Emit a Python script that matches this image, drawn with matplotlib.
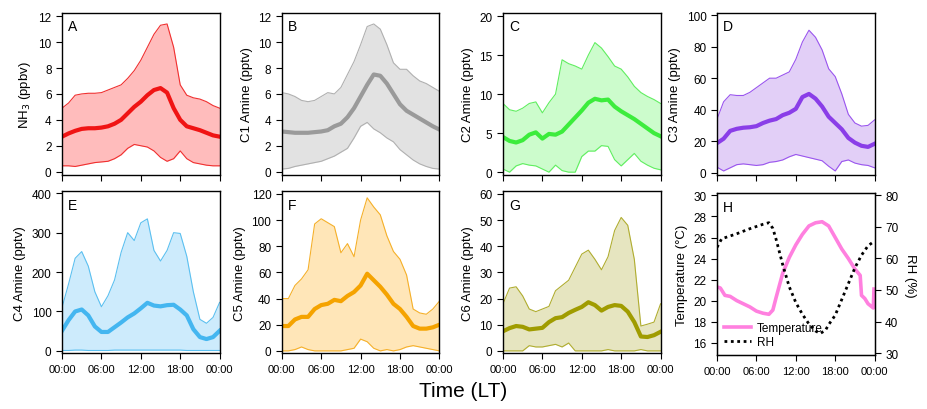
"""
Diurnal cycles of NH3, C1-C6 amines and meteorology (median + range)
"""

import numpy as np
import matplotlib.pyplot as plt

plt.rcParams['font.family'] = ['Liberation Sans', 'DejaVu Sans']

hours = np.arange(25)
xtick_labels = ['00:00', '06:00', '12:00', '18:00', '00:00']

### NH3 (ppbv)
nh3_med = [2.7,2.95,3.15,3.3,3.35,3.35,3.4,3.5,3.7,4.0,4.5,5.0,5.4,5.9,6.3,6.45,6.1,4.9,4.0,3.5,3.35,3.2,3.0,2.8,2.7]
nh3_hi = [4.9,5.3,5.9,6.0,6.05,6.05,6.1,6.3,6.5,6.7,7.2,7.8,8.6,9.6,10.6,11.3,11.4,9.6,6.7,5.9,5.7,5.6,5.4,5.1,4.9]
nh3_lo = [0.45,0.45,0.4,0.5,0.6,0.7,0.75,0.8,1.0,1.3,1.8,2.1,2.0,1.9,1.6,1.1,0.8,1.0,1.6,1.0,0.7,0.6,0.5,0.45,0.45]

### C1 amine (pptv)
c1_med = [3.1,3.05,3.0,3.0,3.0,3.05,3.1,3.2,3.5,3.7,4.2,4.9,5.8,6.7,7.5,7.4,6.8,6.0,5.2,4.7,4.4,4.1,3.8,3.5,3.25]
c1_hi = [6.1,6.0,5.8,5.5,5.4,5.5,5.8,6.1,6.0,6.5,7.5,8.5,9.8,11.2,11.4,11.0,9.8,8.4,7.9,7.9,7.4,7.0,6.8,6.5,6.2]
c1_lo = [0.2,0.25,0.4,0.5,0.6,0.7,0.8,1.0,1.2,1.5,1.8,2.6,3.5,3.8,3.3,3.0,2.6,2.3,1.7,1.3,0.9,0.6,0.4,0.25,0.2]

### C2 amine (pptv)
c2_med = [4.5,4.0,3.8,4.1,4.8,5.1,4.3,4.9,4.8,5.2,6.1,7.0,7.9,8.9,9.4,9.2,9.3,8.4,7.8,7.3,6.8,6.2,5.6,5.0,4.6]
c2_hi = [8.8,8.0,7.8,8.2,8.8,9.0,7.6,8.9,10.0,14.4,13.9,13.6,13.2,15.0,16.6,15.9,14.8,13.6,13.2,12.2,11.0,10.2,9.7,9.3,8.8]
c2_lo = [0.4,0.0,0.8,1.1,0.9,0.8,0.4,0.0,0.9,0.2,0.0,0.0,2.0,2.7,2.7,3.4,3.3,1.6,0.8,1.6,2.4,1.4,0.9,0.5,0.3]

### C3 amine (pptv)
c3_med = [18.7,21.5,26.5,27.8,28.5,28.8,29.5,31.5,33,34,36.5,38,40.5,48,50,47,42,35.5,31.5,27.5,22,19,17,16.3,18.3]
c3_hi = [34,45,49.5,49,49,51,54,57,60,60,62,64,72,83,90.5,86,78,66,61,50,37,31.5,29.5,30,33.5]
c3_lo = [3.4,1,3,5,5.5,5,4.5,5,6.5,7,8,10,11.5,10.5,9.5,8.5,7.5,4,1,7,8,6,5,4.5,3]

### C4 amine (pptv)
c4_med = [51,78,100,105,90,62,48,48,60,72,85,95,108,122,115,113,116,117,105,90,55,35,30,35,51]
c4_hi = [110,170,235,252,215,150,112,140,180,250,300,280,325,335,255,228,255,300,298,240,150,80,70,85,123]
c4_lo = [1,1,2,2,1,1,1,1,2,2,2,2,2,2,2,2,2,2,2,1,1,1,1,1,1]

### C5 amine (pptv)
c5_med = [19,19,24,26,26,32,35,36,39,38,42,45,50,59,54,49,43,36,32,26,19,17,17,18,20]
c5_hi = [40,40,50,55,62,97,101,98,95,75,82,72,100,117,110,104,88,76,70,58,32,29,28,32,38]
c5_lo = [0,0,1,3,1,0,0,0,0,0,1,2,9,7,2,0,1,0,1,3,4,3,2,1,0]

### C6 amine (pptv)
c6_med = [7.5,8.7,9.5,9.2,8.2,8.5,8.8,11,12.5,12.9,14.5,15.7,16.8,18.6,17.5,15.4,16.8,17.5,17.2,15,11,5.5,5.3,6,7.3]
c6_hi = [18,24,24.5,21,16,15,16,17,23,25,27,32,37,38.5,35,31,36,46,51,48,35,9.5,10.2,11,18]
c6_lo = [0,0,0,0,2,1.5,1.5,2,2.5,1.5,3,0,0,0,0,0,0.5,0,0,0,0,0.5,0,0,0]

### Meteorology
temp_hours = [0,0.5,1.2,2,3,4,5,6,7,7.9,8.5,9,10,11,12,13,14,15,16,17,18,19,20,21,21.8,22,22.5,23,23.8,23.9]
temp_vals = [21.3,21.2,20.5,20.4,20.0,19.7,19.4,19.0,18.8,18.7,19.1,20.3,22.6,24.1,25.3,26.3,27.1,27.4,27.5,27.1,26.0,24.9,24.0,23.0,22.4,20.5,20.2,19.7,19.3,21.1]
rh_hours = [0,0.7,2,3,4,5,6,7,7.9,8.5,9,10,11,12,13,14,15,15.7,16.5,17,18,19,20,21,22,23,24]
rh_vals = [63.5,66.2,67.1,67.8,68.6,69.4,70.1,70.8,71.3,69.5,66,58,51,46,42.3,39.2,37,36.2,37.2,39,42,47,52,57,61,64,65.5]


def main():
    fig = plt.figure()
    fig.set_size_inches(9.27, 4.10)

    lefts = [0.0669, 0.304, 0.5426, 0.7735]
    w, h = 0.170, 0.395
    b_top, b_bot = 0.571, 0.136

    panels = [
        ('A', r'NH$_3$ (ppbv)', nh3_med, nh3_lo, nh3_hi, '#f01414', '#ffbcbc', '#f03030', (-0.25, 12.25), 2),
        ('B', 'C1 Amine (pptv)', c1_med, c1_lo, c1_hi, '#9a9a9a', '#e2e2e2', '#b0b0b0', (-0.25, 12.25), 2),
        ('C', 'C2 Amine (pptv)', c2_med, c2_lo, c2_hi, '#3cec3c', '#ccfccc', '#60ee60', (-0.35, 20.4), 5),
        ('D', 'C3 Amine (pptv)', c3_med, c3_lo, c3_hi, '#8a3ee8', '#e2cff7', '#9a55ee', (-1.5, 101.5), 20),
        ('E', 'C4 Amine (pptv)', c4_med, c4_lo, c4_hi, '#44b6f0', '#cdebfc', '#5cc0f0', (-6, 405), 100),
        ('F', 'C5 Amine (pptv)', c5_med, c5_lo, c5_hi, '#f5a300', '#ffe6b8', '#f5b02a', (-1.8, 122), 20),
        ('G', 'C6 Amine (pptv)', c6_med, c6_lo, c6_hi, '#a09c00', '#e6e5c0', '#b0ad30', (-0.9, 61), 10),
    ]

    for i, p in enumerate(panels):
        row, col = divmod(i, 4)
        bottom = b_top if row == 0 else b_bot
        ax = fig.add_axes([lefts[col], bottom, w, h])
        range_plot(ax, *p)
        style_axes(ax, show_xlabels=(row == 1))

    ### Panel H: temperature and RH
    ax = fig.add_axes([lefts[3], b_bot - 0.005, w, h])
    l1, = ax.plot(temp_hours, temp_vals, c='#ff80df', lw=2.6, label='Temperature')
    ax.set_ylim(14.8, 30.2)
    ax.set_yticks(np.arange(16, 31, 2))
    ax.set_ylabel('Temperature (\u00B0C)', fontsize=9.5)
    ax2 = ax.twinx()
    l2, = ax2.plot(rh_hours, rh_vals, c='k', lw=2, ls=(0, (1, 1.3)), label='RH')
    ax2.set_ylim(29.3, 80.6)
    ax2.set_yticks(np.arange(30, 81, 10))
    ax2.set_ylabel('RH (%)', fontsize=9.5, rotation=270, labelpad=13)
    ax2.tick_params(axis='y', direction='out', length=4, labelsize=8.5)
    style_axes(ax, show_xlabels=True)
    ax.text(0.04, 0.96, 'H', transform=ax.transAxes, ha='left', va='top', fontsize=10)
    ax.legend([l1, l2], ['Temperature', 'RH'], loc='lower left', frameon=False,
              fontsize=8.5, handlelength=2.3, labelspacing=0.15, borderaxespad=0.2,
              handletextpad=0.5)

    fig.text(0.5, 0.045, 'Time (LT)', ha='center', va='center', fontsize=15)

    fig.savefig('out.png', dpi=100)


def range_plot(ax, letter, ylab, med, lo, hi, c_line, c_fill, c_edge, ylim, ystep):
    ### Shaded range, thin edges and thick median
    ax.fill_between(hours, lo, hi, color=c_fill, lw=0)
    ax.plot(hours, hi, c=c_edge, lw=0.8)
    ax.plot(hours, lo, c=c_edge, lw=0.8)
    ax.plot(hours, med, c=c_line, lw=3)
    ax.set_ylim(*ylim)
    ax.set_yticks(np.arange(0, ylim[1] + 0.01, ystep))
    ax.set_ylabel(ylab, fontsize=9.5)
    ax.text(0.04, 0.96, letter, transform=ax.transAxes, ha='left', va='top', fontsize=10)


def style_axes(ax, show_xlabels):
    ax.set_xlim(0, 24)
    ax.set_xticks([0, 6, 12, 18, 24])
    if show_xlabels:
        ax.set_xticklabels(xtick_labels)
    else:
        ax.set_xticklabels([])
    ax.tick_params(axis='both', direction='out', length=4, labelsize=8.5)
    ax.tick_params(axis='x', labelsize=8)
    for sp in ax.spines.values():
        sp.set_linewidth(1)


if __name__ == "__main__":
    main()
